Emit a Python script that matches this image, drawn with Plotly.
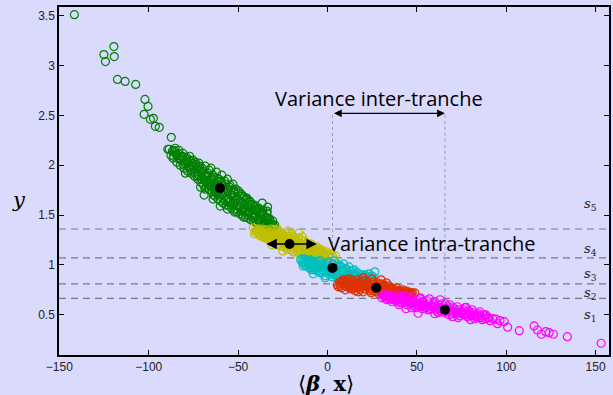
import plotly.graph_objects as go

# ---------------- data ----------------
green_x = [-141.6, -125.1, -124.2, -119.5, -119.3, -117.5, -113.2, -107.3, -102.1, -100.4, -102.6, -99.1, -97.4, -96.3, -94.1, -87.4, -89.3,
           -88.5, -86.8, -85.2, -84.0, -83.1, -81.7, -80.9, -79.6, -78.8, -77.5, -76.9, -75.8, -74.6, -74.0, -73.2, -72.1, -71.5, -70.4,
           -69.8, -68.9, -68.0, -67.2, -66.3, -65.7, -64.9, -64.1, -63.3, -62.6, -61.8, -61.0, -60.2, -59.5, -58.7, -57.9, -57.1, -56.4,
           -55.6, -54.8, -54.1, -53.2, -52.5, -51.7, -50.9, -50.1, -49.4, -48.6, -47.8, -47.0, -46.3, -45.5, -44.7, -44.0, -43.2, -42.4,
           -41.7, -40.9, -40.1, -39.3, -38.5, -37.8, -37.0, -36.2, -35.4, -34.6, -33.8, -33.0, -32.2, -31.4, -30.6, -29.8, -36.5, -33.5,
           -71.0, -68.5, -63.8, -58.2, -79.5, -69.0, -60.0, -56.0, -64.0, -52.0, -47.0, -54.0, -33.8,
           -87.6, -86.4, -85.5, -84.3, -83.6, -82.4, -81.2, -80.3, -79.0, -78.2, -77.1, -76.3, -75.2, -74.4, -73.6, -72.6, -71.9, -70.9,
           -70.1, -69.3, -68.4, -67.6, -66.9, -65.9, -65.2, -64.4, -63.6, -62.9, -62.1, -61.3, -60.7, -59.8, -59.1, -58.3, -57.5, -56.8,
           -56.0, -55.2, -54.5, -53.7, -52.9, -52.1, -51.3, -50.6, -49.8, -49.0, -48.2, -47.5, -46.7, -45.9, -45.1, -44.4, -43.6, -42.8,
           -42.0, -41.2, -40.5, -39.7, -38.9, -38.1, -37.4, -36.6, -35.8, -35.0, -34.3, -33.2, -32.5, -31.7, -30.9,
           -82.9, -77.8, -72.9, -68.8, -64.8, -61.5, -58.9, -55.7, -53.0, -50.3, -47.2, -44.1, -41.5, -38.6, -35.6, -32.8, -66.5, -62.4,
           -57.2, -51.6, -46.0, -40.2, -75.6, -86.0, -80.0,
           -85.9, -84.8, -82.0, -80.7, -78.5, -76.6, -74.9, -73.0, -71.2, -69.6, -67.9, -66.1, -64.6, -63.1, -61.6, -60.4, -58.6, -57.0,
           -55.4, -53.9, -52.3, -50.8, -49.3, -47.7, -46.1, -44.6, -43.1, -41.6, -40.0, -38.3, -36.9, -34.8, -33.4, -31.1, -29.5, -48.5,
           -55.0, -62.0, -67.0, -72.5]
green_y = [3.51, 3.11, 3.04, 3.19, 3.09, 2.86, 2.84, 2.81, 2.66, 2.59, 2.51, 2.46, 2.47, 2.39, 2.38, 2.28, 2.16,
           2.16, 2.14, 2.17, 2.10, 2.15, 2.05, 2.12, 2.02, 2.08, 1.98, 2.04, 2.00, 1.93, 2.03, 1.96, 1.90, 1.99, 1.86,
           1.94, 1.91, 1.83, 1.88, 1.95, 1.79, 1.85, 1.90, 1.75, 1.82, 1.87, 1.72, 1.79, 1.84, 1.70, 1.76, 1.81, 1.67,
           1.73, 1.78, 1.64, 1.70, 1.75, 1.62, 1.67, 1.72, 1.58, 1.64, 1.69, 1.56, 1.61, 1.66, 1.53, 1.58, 1.63, 1.50,
           1.55, 1.60, 1.48, 1.53, 1.57, 1.46, 1.50, 1.55, 1.44, 1.48, 1.52, 1.42, 1.46, 1.40, 1.44, 1.38, 1.62, 1.58,
           1.78, 1.76, 1.70, 1.62, 1.92, 1.70, 1.59, 1.56, 1.66, 1.53, 1.48, 1.75, 1.54,
           2.10, 2.07, 2.14, 2.03, 2.12, 2.00, 2.09, 1.97, 2.06, 1.94, 2.09, 1.92, 2.05, 1.89, 2.01, 1.86, 2.02, 1.83,
           1.97, 1.80, 1.99, 1.78, 1.92, 1.75, 1.97, 1.73, 1.88, 1.69, 1.93, 1.66, 1.86, 1.64, 1.90, 1.62, 1.84, 1.60,
           1.86, 1.59, 1.80, 1.57, 1.81, 1.55, 1.76, 1.53, 1.74, 1.51, 1.71, 1.50, 1.68, 1.48, 1.67, 1.47, 1.64, 1.45,
           1.60, 1.44, 1.58, 1.42, 1.56, 1.41, 1.52, 1.40, 1.50, 1.39, 1.47, 1.38, 1.44, 1.37, 1.41,
           2.06, 1.99, 1.92, 1.85, 1.79, 1.74, 1.70, 1.66, 1.62, 1.59, 1.56, 1.52, 1.49, 1.46, 1.43, 1.41, 1.82, 1.77,
           1.72, 1.65, 1.55, 1.50, 2.02, 2.09, 2.08,
           2.15, 2.11, 2.09, 2.01, 2.04, 1.95, 1.98, 1.89, 1.95, 1.87, 1.89, 1.80, 1.86, 1.78, 1.83, 1.69, 1.79, 1.65,
           1.76, 1.60, 1.72, 1.56, 1.69, 1.54, 1.65, 1.50, 1.61, 1.47, 1.55, 1.44, 1.53, 1.42, 1.47, 1.39, 1.40, 1.59,
           1.63, 1.72, 1.84, 1.98]

yellow_x = [-41.5, -40.2, -39.0, -38.1, -37.2, -36.0, -35.3, -34.4, -33.5, -32.6, -31.8, -30.9, -30.0, -29.1, -28.3, -27.4, -26.6,
            -25.7, -24.8, -24.0, -23.1, -22.3, -21.4, -20.5, -19.7, -18.8, -17.9, -17.1, -16.2, -15.4, -14.5, -13.6, -12.8, -11.9,
            -11.0, -10.2, -9.3, -8.5, -7.6, -6.7, -5.9, -5.0, -4.1, -3.2, -2.3, -1.5, -0.6, 0.4, 2.0, 4.4, -28.0, -22.0, -16.0,
            -25.0, -31.0, -1.3,
            -40.8, -39.6, -38.6, -37.6, -36.7, -35.8, -34.9, -33.9, -33.0, -32.1, -31.3, -30.4, -29.5, -28.7, -27.8, -26.9, -26.1,
            -25.2, -24.4, -23.5, -22.7, -21.8, -20.9, -20.1, -19.2, -18.4, -17.5, -16.6, -15.8, -14.9, -14.1, -13.2, -12.3, -11.5,
            -10.6, -9.7, -8.9, -8.0, -7.2, -6.3, -5.4, -4.6, -3.7, -2.8, -1.9, -1.0, 1.0, 3.0, -23.8, -18.0, -12.0, -27.0, -6.0,
            -35.5, -20.0, -14.0,
            -39.2, -37.9, -36.3, -34.0, -32.9, -31.0, -29.8, -28.9, -27.2, -26.4, -25.5, -24.6, -23.2, -22.5, -21.0, -19.9, -19.0,
            -17.8, -16.9, -15.6, -14.6, -13.5, -12.6, -11.7, -10.4, -9.5, -8.2, -7.0, -4.9, -3.0]
yellow_y = [1.37, 1.33, 1.36, 1.30, 1.34, 1.28, 1.35, 1.31, 1.26, 1.33, 1.29, 1.24, 1.35, 1.31, 1.26, 1.21, 1.33,
            1.28, 1.23, 1.18, 1.31, 1.26, 1.20, 1.15, 1.29, 1.24, 1.18, 1.13, 1.27, 1.22, 1.16, 1.11, 1.24, 1.19,
            1.14, 1.09, 1.21, 1.16, 1.12, 1.08, 1.18, 1.13, 1.09, 1.15, 1.11, 1.08, 1.13, 1.09, 1.11, 1.09, 1.36, 1.34, 1.32,
            1.14, 1.20, 1.10,
            1.31, 1.35, 1.32, 1.29, 1.36, 1.32, 1.27, 1.35, 1.30, 1.24, 1.36, 1.31, 1.22, 1.29, 1.34, 1.24, 1.19,
            1.31, 1.27, 1.21, 1.16, 1.29, 1.24, 1.19, 1.13, 1.27, 1.21, 1.16, 1.11, 1.25, 1.19, 1.14, 1.09, 1.22,
            1.17, 1.12, 1.18, 1.14, 1.09, 1.16, 1.11, 1.14, 1.10, 1.13, 1.09, 1.11, 1.10, 1.08, 1.25, 1.19, 1.16, 1.28, 1.13,
            1.30, 1.31, 1.28,
            1.33, 1.35, 1.31, 1.29, 1.27, 1.33, 1.27, 1.24, 1.31, 1.26, 1.22, 1.29, 1.19, 1.23, 1.27, 1.17, 1.21,
            1.25, 1.19, 1.14, 1.21, 1.17, 1.12, 1.15, 1.20, 1.10, 1.16, 1.13, 1.16, 1.11]

cyan_x = [-15.0, -13.8, -12.9, -11.9, -11.0, -10.1, -9.2, -8.3, -7.4, -6.5, -5.6, -4.7, -3.8, -2.9, -2.0, -1.1, -0.2, 0.7,
          1.6, 2.5, 3.4, 4.3, 5.2, 6.1, 7.0, 7.9, 8.8, 9.7, 10.6, 11.5, 12.4, 13.3, 14.2, 15.1, 16.0, 16.9, 17.8, 18.7, 19.6,
          20.5, 21.4, 22.3, 23.2, 24.1, 25.5, 26.5, -1.3, -8.0, 9.0, 4.0,
          -14.2, -13.3, -12.4, -11.4, -10.6, -9.7, -8.8, -7.9, -7.0, -6.1, -5.2, -4.3, -3.4, -2.5, -1.6, -0.7, 0.2, 1.1,
          2.0, 2.9, 3.8, 4.7, 5.6, 6.5, 7.4, 8.3, 9.2, 10.1, 11.0, 11.9, 12.8, 13.7, 14.6, 15.5, 16.4, 17.3, 18.2, 19.1,
          20.0, 21.0, 21.9, 22.8, 23.7, 24.6, -9.0, -4.0, 1.0, 6.0, 12.0, 15.0,
          -13.6, -12.1, -10.3, -9.4, -7.7, -6.8, -5.9, -4.5, -3.1, -2.2, -0.9, 0.4, 1.4, 2.3, 3.6, 4.5, 5.4, 6.8,
          7.7, 8.6, 9.9, 10.8, 12.2, 13.1, 14.0, 15.8, 17.0, 18.9, 20.3, 22.0]
cyan_y = [1.05, 1.02, 1.06, 0.99, 1.03, 0.97, 1.05, 1.00, 0.95, 1.03, 0.98, 0.93, 1.04, 0.99, 0.94, 0.89, 1.02, 0.97,
          0.92, 0.88, 1.00, 0.95, 0.90, 0.86, 0.98, 0.93, 0.88, 0.84, 0.96, 0.91, 0.87, 0.83, 0.94, 0.89, 0.85, 0.92, 0.87, 0.83, 0.90,
          0.85, 0.88, 0.84, 0.91, 0.86, 0.88, 0.93, 0.87, 0.91, 1.01, 1.04,
          1.06, 1.03, 1.00, 1.05, 1.01, 0.99, 1.03, 0.97, 1.01, 0.96, 1.04, 0.97, 1.01, 0.92, 0.98, 0.94, 0.99, 0.90,
          0.95, 1.01, 0.91, 0.97, 0.88, 0.93, 0.99, 0.86, 0.91, 0.96, 0.85, 0.89, 0.94, 0.86, 0.91, 0.84, 0.88, 0.90, 0.85, 0.87,
          0.82, 0.90, 0.86, 0.88, 0.83, 0.89, 0.95, 0.92, 1.03, 1.00, 0.98, 0.95,
          0.99, 1.03, 1.04, 0.97, 1.00, 0.98, 0.94, 1.00, 0.95, 0.97, 1.00, 0.93, 0.97, 0.92, 0.95, 0.89, 0.99, 0.90,
          0.95, 0.90, 0.88, 0.93, 0.91, 0.89, 0.85, 0.87, 0.86, 0.89, 0.87, 0.85]

red_x = [5.5, 6.8, 7.9, 9.0, 10.1, 11.2, 12.3, 13.4, 14.5, 15.6, 16.7, 17.8, 18.9, 20.0, 21.1, 22.2, 23.3, 24.4, 25.5, 26.6,
         27.7, 28.8, 29.9, 31.0, 32.1, 33.2, 34.3, 35.4, 36.5, 37.6, 38.7, 39.8, 40.9, 42.0, 43.1, 44.2, 45.3, 46.4, 47.5, 48.8,
         30.0, 20.0, 10.0,
         6.0, 7.3, 8.5, 9.5, 10.6, 11.7, 12.8, 13.9, 15.0, 16.1, 17.2, 18.3, 19.4, 20.5, 21.6, 22.7, 23.8, 24.9, 26.0, 27.1,
         28.2, 29.3, 30.4, 31.5, 32.6, 33.7, 34.8, 35.9, 37.0, 38.1, 39.2, 40.3, 41.4, 42.5, 43.6, 44.7, 45.8, 47.0, 25.0, 18.0,
         36.0, 14.0, 33.0,
         7.0, 8.2, 9.8, 11.0, 12.0, 13.0, 14.8, 16.4, 17.5, 18.6, 19.8, 21.3, 22.4, 23.5, 24.6, 25.7, 26.8, 28.0, 29.0, 30.2,
         31.3, 32.3, 33.5, 34.6, 35.7, 36.8, 38.5, 39.9, 41.7, 43.3, 45.0, 46.2]
red_y = [0.80, 0.83, 0.77, 0.85, 0.81, 0.78, 0.86, 0.82, 0.78, 0.74, 0.85, 0.81, 0.77, 0.73, 0.84, 0.80, 0.76, 0.72, 0.83, 0.79,
         0.75, 0.71, 0.81, 0.77, 0.73, 0.69, 0.79, 0.75, 0.71, 0.68, 0.77, 0.73, 0.70, 0.75, 0.71, 0.68, 0.73, 0.70, 0.72, 0.72,
         0.85, 0.87, 0.75,
         0.78, 0.81, 0.84, 0.79, 0.83, 0.80, 0.76, 0.84, 0.81, 0.77, 0.73, 0.83, 0.79, 0.76, 0.81, 0.78, 0.74, 0.86, 0.81, 0.73,
         0.79, 0.76, 0.72, 0.80, 0.75, 0.72, 0.77, 0.73, 0.70, 0.75, 0.71, 0.74, 0.72, 0.69, 0.74, 0.71, 0.69, 0.71, 0.78, 0.75,
         0.77, 0.76, 0.82,
         0.79, 0.82, 0.82, 0.85, 0.79, 0.78, 0.79, 0.82, 0.78, 0.80, 0.84, 0.76, 0.82, 0.79, 0.76, 0.74, 0.77, 0.82, 0.74, 0.79,
         0.74, 0.78, 0.76, 0.73, 0.75, 0.73, 0.73, 0.72, 0.73, 0.72, 0.71, 0.72]

magenta_x = [30.5, 32.0, 33.4, 34.8, 36.2, 37.6, 39.0, 40.4, 41.8, 43.2, 44.6, 46.0, 47.4, 48.8, 50.2, 51.6, 53.0, 54.4, 55.8,
             57.2, 58.6, 60.0, 61.4, 62.8, 64.2, 65.6, 67.0, 68.4, 69.8, 71.2, 72.6, 74.0, 75.4, 76.8, 78.2, 79.6, 81.0, 82.4,
             83.8, 85.2, 86.6, 88.0, 89.4, 91.0, 92.5, 50.7, 77.6, 57.0, 44.0, 63.0, 70.0,
             31.2, 32.7, 34.1, 35.5, 36.9, 38.3, 39.7, 41.1, 42.5, 43.9, 45.3, 46.7, 48.1, 49.5, 50.9, 52.3, 53.7, 55.1, 56.5,
             57.9, 59.3, 60.7, 62.1, 63.5, 64.9, 66.3, 67.7, 69.1, 70.5, 71.9, 73.3, 74.7, 76.1, 77.5, 78.9, 80.3, 81.7, 83.1,
             84.5, 85.9, 87.3, 88.3, 90.2, 47.0, 60.0, 73.0, 52.0, 66.0, 80.0, 40.0,
             31.8, 33.0, 35.0, 36.5, 38.0, 39.3, 40.8, 42.2, 43.6, 45.0, 46.4, 47.8, 49.2, 50.6, 52.0, 53.4, 54.8, 56.2, 57.6,
             59.0, 60.4, 61.8, 63.2, 64.6, 66.0, 67.4, 68.8, 70.2, 71.6, 73.0, 74.4, 75.8, 77.2, 78.6, 80.0, 81.4, 82.8, 84.2,
             56.0, 62.0, 50.0, 68.0,
             88.7, 94.3, 96.5, 98.9, 100.8, 95.2, 107.3, 115.6, 117.5, 119.7, 122.1, 124.0, 126.4, 134.2, 153.1]
magenta_y = [0.67, 0.70, 0.65, 0.68, 0.63, 0.67, 0.70, 0.62, 0.66, 0.69, 0.60, 0.64, 0.68, 0.58, 0.62, 0.66, 0.56, 0.60, 0.64,
             0.55, 0.59, 0.63, 0.53, 0.57, 0.61, 0.52, 0.56, 0.60, 0.51, 0.55, 0.58, 0.49, 0.53, 0.57, 0.48, 0.52, 0.55, 0.46,
             0.50, 0.53, 0.45, 0.49, 0.47, 0.44, 0.46, 0.515, 0.575, 0.66, 0.56, 0.65, 0.48,
             0.69, 0.66, 0.70, 0.66, 0.69, 0.64, 0.67, 0.63, 0.67, 0.62, 0.66, 0.61, 0.64, 0.60, 0.64, 0.58, 0.63, 0.57, 0.61,
             0.56, 0.61, 0.55, 0.60, 0.54, 0.58, 0.53, 0.58, 0.53, 0.57, 0.51, 0.55, 0.51, 0.55, 0.50, 0.54, 0.49, 0.52, 0.48,
             0.51, 0.47, 0.50, 0.46, 0.47, 0.57, 0.51, 0.47, 0.67, 0.61, 0.45, 0.60,
             0.68, 0.68, 0.67, 0.65, 0.66, 0.65, 0.65, 0.64, 0.65, 0.63, 0.63, 0.62, 0.62, 0.60, 0.61, 0.59, 0.59, 0.58, 0.59,
             0.57, 0.58, 0.56, 0.57, 0.55, 0.56, 0.54, 0.55, 0.53, 0.53, 0.52, 0.53, 0.51, 0.52, 0.50, 0.50, 0.49, 0.50, 0.48,
             0.55, 0.52, 0.57, 0.50,
             0.498, 0.455, 0.44, 0.43, 0.375, 0.41, 0.34, 0.388, 0.347, 0.304, 0.33, 0.32, 0.304, 0.28, 0.214]

slice_x = [green_x, yellow_x, cyan_x, red_x, magenta_x]
slice_y = [green_y, yellow_y, cyan_y, red_y, magenta_y]
slice_colors = ["#008000", "#bfbf00", "#00bfbf", "#e03000", "#ff00ff"]

mean_x = [-60.1, -21.2, 2.8, 27.3, 65.7]
mean_y = [1.77, 1.21, 0.97, 0.77, 0.55]

s_levels = [0.665, 0.81, 1.07, 1.36]
s_label_y = [0.49, 0.71, 0.90, 1.15, 1.61]
s_label_x = 147
s_names = ["1", "2", "3", "4", "5"]

inter_y = 2.52
intra_arrow_x = [-35.0, -6.0]

x_ticks = [-150, -100, -50, 0, 50, 100, 150]
y_ticks = [0.5, 1, 1.5, 2, 2.5, 3, 3.5]
x_range = [-150.2, 157.5]
y_range = [0.096, 3.587]

# ---------------- figure ----------------
bg = "#dadafc"
fig = go.Figure()

for xs, ys, c in zip(slice_x, slice_y, slice_colors):
    fig.add_trace(go.Scatter(x=xs, y=ys, mode="markers",
                             marker=dict(symbol="circle-open", size=8, color=c, line=dict(width=1.2, color=c)),
                             showlegend=False, hoverinfo="skip"))

# dotted vertical guides for the inter-slice variance
for i in (2, 4):
    fig.add_trace(go.Scatter(x=[mean_x[i], mean_x[i]], y=[mean_y[i], inter_y], mode="lines",
                             line=dict(color="#9a9aaa", width=1, dash="dot"),
                             showlegend=False, hoverinfo="skip"))

fig.add_trace(go.Scatter(x=mean_x, y=mean_y, mode="markers",
                         marker=dict(symbol="circle", size=10, color="black"),
                         showlegend=False, hoverinfo="skip"))

shapes = []
for lv in s_levels:
    shapes.append(dict(type="line", xref="paper", x0=0, x1=1, yref="y", y0=lv, y1=lv,
                       line=dict(color="#7a7a7a", width=1.2, dash="7px,5px"), layer="below"))

annotations = []
# double arrows
annotations.append(dict(x=mean_x[4], y=inter_y, ax=mean_x[2], ay=inter_y, xref="x", yref="y", axref="x", ayref="y",
                        showarrow=True, arrowhead=2, arrowside="end+start", arrowsize=1.3, arrowwidth=1.2,
                        arrowcolor="black", text=""))
annotations.append(dict(x=intra_arrow_x[1], y=mean_y[1], ax=intra_arrow_x[0], ay=mean_y[1], xref="x", yref="y",
                        axref="x", ayref="y", showarrow=True, arrowhead=2, arrowside="end+start", arrowsize=1.3,
                        arrowwidth=1.6, arrowcolor="black", text=""))
annotations.append(dict(x=29, y=2.665, xref="x", yref="y", text="Variance inter-tranche", showarrow=False,
                        font=dict(family="Open Sans", size=20, color="black")))
annotations.append(dict(x=-0.8, y=1.21, xref="x", yref="y", text="Variance intra-tranche", showarrow=False,
                        xanchor="left", font=dict(family="Open Sans", size=20, color="black")))
for ly, nm in zip(s_label_y, s_names):
    annotations.append(dict(x=s_label_x, y=ly, xref="x", yref="y", text="<i>s</i><sub>" + nm + "</sub>",
                            showarrow=False, font=dict(family="DejaVu Serif", size=13, color="#222")))
# axis titles
annotations.append(dict(x=-0.09, y=0.445, xref="paper", yref="paper", text="<i>y</i>", showarrow=False,
                        font=dict(family="DejaVu Serif", size=21, color="black")))
annotations.append(dict(x=0.486, y=-0.082, xref="paper", yref="paper",
                        text="⟨<b><i>β</i></b>, <b>x</b>⟩", showarrow=False, yanchor="middle",
                        font=dict(family="DejaVu Serif", size=21, color="black")))

axis_common = dict(showgrid=False, zeroline=False, showline=True, linecolor="black", linewidth=1.5,
                   ticks="inside", ticklen=5, tickwidth=1, tickcolor="black", mirror="ticks",
                   tickfont=dict(family="Liberation Sans", size=12, color="#222"))

fig.update_layout(
    width=613, height=395,
    margin=dict(l=59, r=2, t=7, b=40),
    paper_bgcolor=bg, plot_bgcolor=bg,
    xaxis=dict(range=x_range, tickvals=x_ticks, ticktext=[("\u2212" + str(-v)) if v < 0 else str(v) for v in x_ticks],
               **axis_common),
    yaxis=dict(range=y_range, tickvals=y_ticks, ticktext=[str(v) for v in y_ticks], **axis_common),
    shapes=shapes, annotations=annotations,
)

fig.write_html("out.html")
